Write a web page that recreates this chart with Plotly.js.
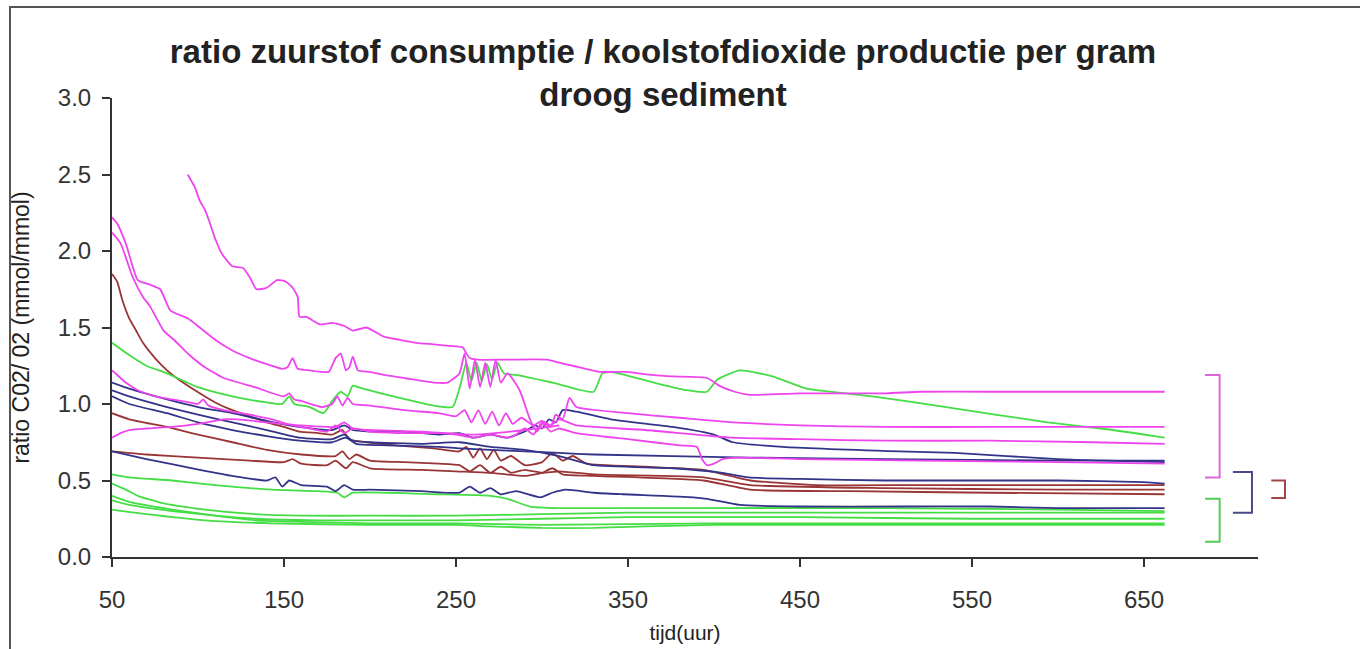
<!DOCTYPE html>
<html><head><meta charset="utf-8">
<script src="https://cdn.plot.ly/plotly-3.0.1.min.js"></script>
<style>
html,body{margin:0;padding:0;background:#fff;}
#wrap{position:relative;width:1360px;height:649px;overflow:hidden;}
#chart{width:1360px;height:649px;}
#frame{position:absolute;left:9px;top:6px;right:-5px;bottom:-5px;border-left:2px solid #555;border-top:2px solid #555;pointer-events:none;}
</style>
</head><body>
<div id="wrap"><div id="chart"></div><div id="frame"></div></div>
<script>
// ---- tick labels ----
const xTicks = [50, 150, 250, 350, 450, 550, 650];
const yTicks = [0, 0.5, 1.0, 1.5, 2.0, 2.5, 3.0];

// ---- magenta series ----
const m1_t = [94, 98, 101, 104, 107, 110, 114, 120, 126, 130, 134, 140, 146, 151, 155, 158, 159, 163, 171, 178, 185, 190, 198, 208, 217, 227, 237, 246, 254, 256, 258, 262, 280, 303, 310, 318, 334, 349, 364, 376, 396, 403, 412, 421, 450, 500, 520, 560, 600, 640, 662];
const m1_r = [2.50, 2.42, 2.33, 2.27, 2.18, 2.08, 1.98, 1.90, 1.89, 1.83, 1.75, 1.76, 1.81, 1.80, 1.76, 1.70, 1.57, 1.57, 1.52, 1.53, 1.51, 1.48, 1.50, 1.44, 1.42, 1.40, 1.39, 1.38, 1.37, 1.33, 1.30, 1.29, 1.29, 1.29, 1.27, 1.25, 1.21, 1.21, 1.19, 1.18, 1.17, 1.12, 1.08, 1.06, 1.07, 1.07, 1.08, 1.08, 1.08, 1.08, 1.08];

const m2_t = [50, 53, 58, 65, 72, 78, 84, 94, 101, 110, 120, 130, 140, 149, 152, 155, 158, 165, 176, 180, 183, 186, 188, 190, 193, 200, 208, 220, 237, 245, 252, 255, 258, 261, 264, 267, 270, 273, 276, 280, 287, 293, 297, 301, 305, 308, 312, 316, 320, 350, 380, 411, 450, 500, 560, 620, 662];
const m2_r = [2.22, 2.18, 2.05, 1.81, 1.78, 1.75, 1.61, 1.56, 1.50, 1.42, 1.35, 1.30, 1.26, 1.23, 1.24, 1.30, 1.23, 1.22, 1.21, 1.30, 1.33, 1.22, 1.24, 1.31, 1.22, 1.21, 1.19, 1.17, 1.14, 1.14, 1.20, 1.33, 1.10, 1.29, 1.11, 1.27, 1.11, 1.29, 1.14, 1.20, 1.09, 0.90, 0.82, 0.88, 0.85, 0.93, 0.90, 1.04, 0.98, 0.94, 0.91, 0.88, 0.86, 0.85, 0.85, 0.85, 0.85];

const m3_t = [50, 55, 62, 68, 72, 80, 86, 95, 104, 115, 133, 150, 153, 156, 160, 172, 178, 181, 184, 187, 190, 200, 220, 240, 250, 255, 259, 263, 267, 271, 275, 279, 283, 288, 295, 300, 305, 310, 320, 360, 411, 450, 500, 560, 620, 662];
const m3_r = [2.12, 2.05, 1.83, 1.70, 1.64, 1.48, 1.42, 1.32, 1.24, 1.17, 1.11, 1.05, 1.07, 1.03, 1.02, 0.98, 1.00, 1.05, 0.99, 1.04, 1.00, 0.99, 0.96, 0.94, 0.92, 0.96, 0.88, 0.96, 0.87, 0.95, 0.86, 0.94, 0.87, 0.91, 0.86, 0.89, 0.86, 0.90, 0.86, 0.83, 0.78, 0.77, 0.76, 0.76, 0.75, 0.74];

const m4_t = [50, 52, 58, 65, 75, 85, 95, 100, 103, 106, 115, 130, 143, 155, 165, 175, 180, 185, 190, 200, 220, 240, 250, 260, 270, 280, 285, 290, 295, 300, 305, 310, 320, 350, 380, 390, 393, 396, 400, 405, 415, 450, 520, 600, 662];
const m4_r = [1.22, 1.20, 1.14, 1.09, 1.05, 1.03, 1.01, 1.00, 1.03, 0.99, 0.96, 0.93, 0.90, 0.86, 0.84, 0.82, 0.86, 0.81, 0.84, 0.82, 0.81, 0.81, 0.80, 0.78, 0.80, 0.78, 0.80, 0.84, 0.80, 0.88, 0.82, 0.84, 0.81, 0.77, 0.73, 0.72, 0.64, 0.60, 0.61, 0.64, 0.65, 0.64, 0.63, 0.62, 0.61];

const m5_t = [50, 55, 60, 70, 85, 100, 110, 115, 123, 140, 160, 180, 185, 190, 200, 230, 260, 290, 310];
const m5_r = [0.78, 0.81, 0.83, 0.84, 0.85, 0.87, 0.89, 0.90, 0.90, 0.88, 0.86, 0.85, 0.88, 0.84, 0.83, 0.82, 0.80, 0.83, 0.86];

// ---- brown series ----
const br1_t = [50, 53, 56, 60, 64, 68, 75, 82, 90, 101, 110, 120, 130, 140, 150, 159, 170, 178, 184, 188, 198, 215, 237, 252, 256, 260, 264, 268, 272, 276, 282, 290, 300, 306, 312, 318, 326, 360, 394, 421, 460, 520, 600, 662];
const br1_r = [1.85, 1.80, 1.68, 1.56, 1.48, 1.40, 1.30, 1.22, 1.15, 1.07, 1.01, 0.96, 0.92, 0.88, 0.85, 0.82, 0.81, 0.80, 0.83, 0.77, 0.75, 0.73, 0.71, 0.69, 0.72, 0.65, 0.71, 0.64, 0.70, 0.63, 0.66, 0.60, 0.62, 0.68, 0.63, 0.66, 0.61, 0.59, 0.57, 0.50, 0.47, 0.47, 0.47, 0.47];

const br2_t = [50, 60, 82, 100, 120, 140, 160, 180, 184, 188, 192, 200, 220, 240, 252, 258, 264, 270, 276, 282, 290, 300, 310, 330, 394, 421, 500, 600, 662];
const br2_r = [0.94, 0.90, 0.85, 0.80, 0.75, 0.70, 0.67, 0.66, 0.69, 0.64, 0.67, 0.63, 0.62, 0.61, 0.60, 0.56, 0.60, 0.55, 0.59, 0.55, 0.57, 0.55, 0.56, 0.54, 0.52, 0.47, 0.45, 0.44, 0.44];

const br3_t = [50, 70, 100, 130, 150, 155, 160, 175, 180, 186, 190, 200, 230, 250, 270, 290, 300, 306, 312, 330, 394, 421, 480, 560, 662];
const br3_r = [0.69, 0.67, 0.65, 0.63, 0.62, 0.64, 0.61, 0.60, 0.63, 0.58, 0.62, 0.58, 0.57, 0.56, 0.55, 0.53, 0.55, 0.58, 0.54, 0.53, 0.50, 0.44, 0.43, 0.42, 0.41];

// ---- blue series ----
const b1_t = [50, 60, 82, 100, 120, 140, 159, 178, 185, 190, 200, 220, 240, 252, 260, 270, 280, 290, 296, 300, 304, 308, 312, 320, 340, 376, 400, 411, 440, 508, 540, 600, 662];
const b1_r = [1.14, 1.10, 1.03, 0.98, 0.94, 0.89, 0.85, 0.83, 0.86, 0.83, 0.82, 0.82, 0.80, 0.81, 0.78, 0.80, 0.78, 0.82, 0.86, 0.84, 0.90, 0.88, 0.96, 0.95, 0.90, 0.85, 0.80, 0.75, 0.72, 0.69, 0.68, 0.64, 0.62];

const b2_t = [50, 60, 82, 100, 120, 140, 159, 178, 185, 190, 200, 230, 252, 270, 290, 310, 330, 376, 405, 420, 450, 500, 600, 650, 662];
const b2_r = [1.09, 1.05, 0.98, 0.93, 0.88, 0.83, 0.78, 0.77, 0.80, 0.76, 0.75, 0.74, 0.75, 0.72, 0.70, 0.66, 0.60, 0.58, 0.55, 0.52, 0.51, 0.50, 0.50, 0.49, 0.48];

const b3_t = [50, 60, 82, 100, 120, 140, 159, 178, 186, 192, 210, 240, 252, 270, 290, 310, 330, 420, 500, 600, 662];
const b3_r = [1.05, 1.00, 0.94, 0.88, 0.83, 0.79, 0.76, 0.75, 0.78, 0.74, 0.73, 0.72, 0.71, 0.70, 0.69, 0.68, 0.67, 0.65, 0.64, 0.63, 0.63];

const b4_t = [50, 70, 101, 120, 140, 145, 149, 153, 160, 175, 180, 185, 190, 200, 230, 252, 258, 264, 270, 276, 285, 299, 306, 314, 330, 347, 388, 396, 415, 450, 508, 560, 600, 662];
const b4_r = [0.69, 0.64, 0.57, 0.53, 0.50, 0.52, 0.46, 0.50, 0.47, 0.46, 0.43, 0.47, 0.44, 0.44, 0.43, 0.42, 0.46, 0.42, 0.45, 0.41, 0.43, 0.39, 0.42, 0.44, 0.42, 0.41, 0.39, 0.38, 0.34, 0.33, 0.33, 0.33, 0.32, 0.32];

// ---- green series ----
const g1_t = [50, 60, 70, 82, 100, 120, 140, 149, 153, 156, 165, 173, 178, 183, 187, 190, 196, 210, 237, 248, 252, 256, 259, 262, 265, 268, 271, 274, 278, 285, 306, 330, 335, 340, 365, 384, 396, 402, 415, 434, 454, 492, 535, 594, 632, 662];
const g1_r = [1.40, 1.32, 1.25, 1.20, 1.11, 1.05, 1.01, 1.00, 1.05, 1.00, 0.98, 0.94, 1.02, 1.08, 1.05, 1.12, 1.10, 1.06, 0.99, 0.98, 1.10, 1.27, 1.15, 1.27, 1.15, 1.26, 1.16, 1.27, 1.20, 1.19, 1.14, 1.08, 1.20, 1.21, 1.14, 1.09, 1.08, 1.16, 1.22, 1.18, 1.10, 1.05, 0.98, 0.88, 0.83, 0.78];

const g2_t = [50, 60, 85, 110, 143, 170, 181, 185, 190, 240, 270, 280, 293, 310, 400, 500, 600, 662];
const g2_r = [0.54, 0.52, 0.50, 0.47, 0.44, 0.43, 0.42, 0.39, 0.42, 0.41, 0.40, 0.38, 0.33, 0.32, 0.32, 0.32, 0.31, 0.30];

const g3_t = [50, 58, 65, 80, 104, 133, 160, 200, 250, 300, 350, 400, 500, 600, 662];
const g3_r = [0.48, 0.44, 0.40, 0.35, 0.31, 0.28, 0.27, 0.27, 0.27, 0.28, 0.29, 0.29, 0.29, 0.29, 0.29];

const g4_t = [50, 60, 85, 110, 133, 160, 200, 250, 300, 400, 500, 600, 662];
const g4_r = [0.40, 0.36, 0.31, 0.27, 0.24, 0.23, 0.22, 0.22, 0.21, 0.22, 0.22, 0.22, 0.22];

const g5_t = [50, 60, 85, 110, 133, 170, 200, 250, 300, 350, 450, 550, 662];
const g5_r = [0.37, 0.34, 0.30, 0.27, 0.25, 0.24, 0.24, 0.24, 0.25, 0.26, 0.26, 0.25, 0.25];

const g6_t = [50, 70, 104, 143, 200, 250, 270, 300, 330, 360, 400, 500, 662];
const g6_r = [0.31, 0.28, 0.24, 0.22, 0.21, 0.21, 0.20, 0.19, 0.19, 0.20, 0.21, 0.21, 0.21];

// ---- group brackets (data units) ----
const bracketGroup  = ['magenta', 'blue', 'brown', 'green'];
const bracketTip    = [685.5, 701.7, 724, 685.5];
const bracketSpine  = [694, 712.8, 732, 694];
const bracketTop    = [1.19, 0.555, 0.50, 0.38];
const bracketBottom = [0.52, 0.29, 0.385, 0.10];

// ---- styling ----
const COL = {magenta: '#ee44ee', green: '#44dd44', blue: '#33338a', brown: '#993535'};
const BRACKET_COL = {magenta: '#dd66dd', green: '#55cc55', blue: '#4a4a8a', brown: '#a04848'};

const series = [
  [g6_t, g6_r, 'green'], [g5_t, g5_r, 'green'], [g4_t, g4_r, 'green'], [g3_t, g3_r, 'green'], [g2_t, g2_r, 'green'],
  [br1_t, br1_r, 'brown'], [br2_t, br2_r, 'brown'], [br3_t, br3_r, 'brown'],
  [b4_t, b4_r, 'blue'], [b3_t, b3_r, 'blue'], [b2_t, b2_r, 'blue'], [b1_t, b1_r, 'blue'],
  [g1_t, g1_r, 'green'],
  [m5_t, m5_r, 'magenta'], [m4_t, m4_r, 'magenta'], [m3_t, m3_r, 'magenta'], [m2_t, m2_r, 'magenta'], [m1_t, m1_r, 'magenta']
];

const traces = series.map(s => ({
  x: s[0], y: s[1], type: 'scatter', mode: 'lines',
  line: {color: COL[s[2]], width: 1.8, shape: 'spline', smoothing: 0.5},
  hoverinfo: 'skip', showlegend: false
}));

bracketGroup.forEach((g, i) => {
  traces.push({
    x: [bracketTip[i], bracketSpine[i], bracketSpine[i], bracketTip[i]],
    y: [bracketTop[i], bracketTop[i], bracketBottom[i], bracketBottom[i]],
    xaxis: 'x2', yaxis: 'y', type: 'scatter', mode: 'lines',
    line: {color: BRACKET_COL[g], width: 2}, hoverinfo: 'skip', showlegend: false
  });
});

const FONT = 'Liberation Sans, Arial, sans-serif';
const plotW = 1360 - 112 - 40;
const xMainMax = 716.3;
const pxPerUnit = 1146 / (xMainMax - 50);

const layout = {
  width: 1360, height: 649,
  paper_bgcolor: '#fff', plot_bgcolor: 'rgba(0,0,0,0)',
  margin: {l: 112, r: 40, t: 98, b: 92, pad: 0},
  font: {family: FONT, color: '#333'},
  title: {
    text: 'ratio zuurstof consumptie / koolstofdioxide productie per gram<br>droog sediment',
    font: {family: FONT, size: 33, color: '#222', weight: 'bold'},
    xref: 'container', x: 0.4875, xanchor: 'center',
    yref: 'container', y: 0.903, yanchor: 'top'
  },
  xaxis: {
    domain: [0, 1146 / plotW], range: [50, xMainMax],
    showline: true, linecolor: '#333', linewidth: 2,
    ticks: 'outside', ticklen: 8, tickwidth: 2, tickcolor: '#333',
    tickmode: 'array', tickvals: xTicks, ticktext: xTicks.map(String),
    showgrid: false, zeroline: false,
    tickfont: {family: FONT, size: 24, color: '#333'},
    ticklabelstandoff: 12,
    title: {text: 'tijd(uur)', font: {family: FONT, size: 21, color: '#222'}, standoff: 14},
    fixedrange: true
  },
  xaxis2: {
    domain: [0, 1], range: [50, 50 + plotW / pxPerUnit],
    visible: false, anchor: 'y', fixedrange: true
  },
  yaxis: {
    range: [0, 3], anchor: 'x',
    showline: true, linecolor: '#333', linewidth: 2,
    ticks: 'outside', ticklen: 8, tickwidth: 2, tickcolor: '#333',
    tickmode: 'array', tickvals: yTicks, tickformat: '.1f',
    showgrid: false, zeroline: false,
    tickfont: {family: FONT, size: 24, color: '#333'},
    ticklabelstandoff: 6,
    title: {text: 'ratio C02/ 02 (mmol/mmol)', font: {family: FONT, size: 23, color: '#222'}, standoff: 22},
    fixedrange: true
  }
};

Plotly.newPlot('chart', traces, layout, {displayModeBar: false, staticPlot: true});
</script>
</body></html>
